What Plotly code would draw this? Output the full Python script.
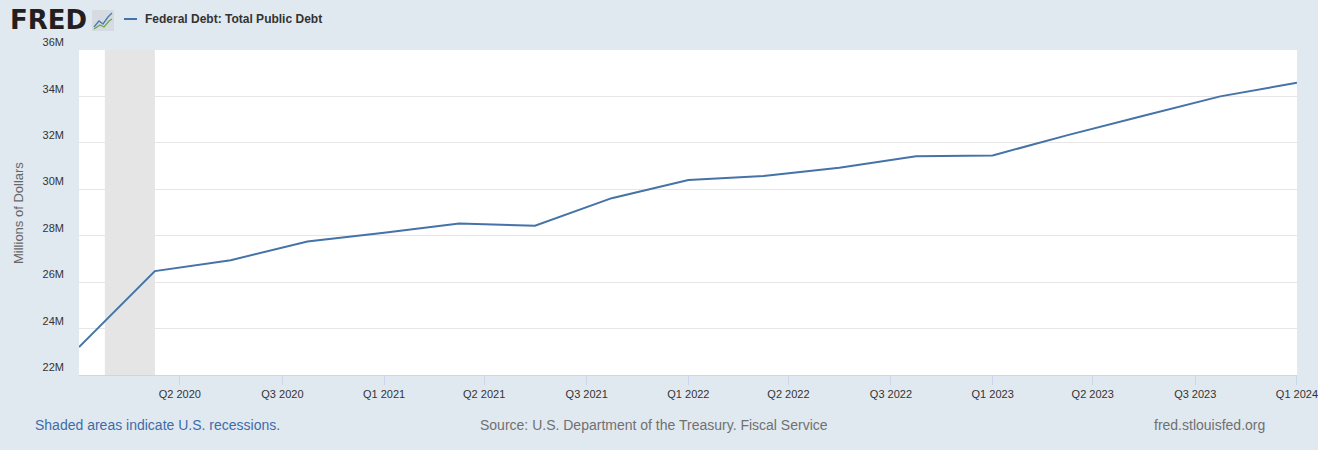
import plotly.graph_objects as go

# ---- data ----
dates = ["2020-01-01", "2020-04-01", "2020-07-01", "2020-10-01",
         "2021-01-01", "2021-04-01", "2021-07-01", "2021-10-01",
         "2022-01-01", "2022-04-01", "2022-07-01", "2022-10-01",
         "2023-01-01", "2023-04-01", "2023-07-01", "2023-10-01",
         "2024-01-01"]
debt_millions = [23201380, 26477151, 26945391, 27747798,
                 28132570, 28529436, 28428919, 29617215,
                 30400960, 30568582, 30928912, 31419689,
                 31458438, 32332274, 33167334, 34001494,
                 34586533]
tick_dates = ["2020-05-01", "2020-09-01", "2021-01-01", "2021-05-01",
              "2021-09-01", "2022-01-01", "2022-05-01", "2022-09-01",
              "2023-01-01", "2023-05-01", "2023-09-01", "2024-01-01"]
tick_labels = ["Q2 2020", "Q3 2020", "Q1 2021", "Q2 2021", "Q3 2021",
               "Q1 2022", "Q2 2022", "Q3 2022", "Q1 2023", "Q2 2023",
               "Q3 2023", "Q1 2024"]
recession_start = "2020-02-01"
recession_end = "2020-04-01"
series_name = "Federal Debt: Total Public Debt"

W, H = 1318, 450
L, R, T, B = 79, 21, 50, 75
PW, PH = W - L - R, H - T - B
BG = "#e1e9f0"
FONT = "Liberation Sans, Arial, sans-serif"


def px(x):
    return (x - L) / PW


def py(y):
    return (H - B - y) / PH


fig = go.Figure()
fig.add_trace(go.Scatter(x=dates, y=debt_millions, mode="lines",
                         name=series_name, showlegend=False,
                         line=dict(color="#4572a7", width=2)))

shapes = [
    dict(type="rect", xref="x", yref="paper", x0=recession_start, x1=recession_end,
         y0=0, y1=1, fillcolor="#e5e5e5", line=dict(width=0), layer="below"),
    # legend line sample
    dict(type="line", xref="paper", yref="paper", x0=px(124), x1=px(137),
         y0=py(19), y1=py(19), line=dict(color="#4572a7", width=2)),
    # logo icon box
    dict(type="rect", xref="paper", yref="paper", x0=px(92), x1=px(114),
         y0=py(31), y1=py(10), fillcolor="#d5dbe0", line=dict(width=0)),
    dict(type="path", xref="paper", yref="paper",
         path=f"M {px(94)},{py(27)} L {px(99)},{py(21)} L {px(103)},{py(24)} L {px(108)},{py(17)} L {px(112)},{py(13)}",
         line=dict(color="#4e79b5", width=1.3)),
    dict(type="path", xref="paper", yref="paper",
         path=f"M {px(94)},{py(29)} L {px(100)},{py(25)} L {px(104)},{py(27)} L {px(109)},{py(21)} L {px(112)},{py(19)}",
         line=dict(color="#6aa84f", width=1.3)),
]

annotations = [
    dict(text="<b>FRED</b>", xref="paper", yref="paper", x=px(8), y=py(20),
         xanchor="left", yanchor="middle", showarrow=False,
         font=dict(family="DejaVu Sans, sans-serif", size=26, color="#231f20")),
    dict(text="<b>" + series_name + "</b>", xref="paper", yref="paper", x=px(143), y=py(19),
         xanchor="left", yanchor="middle", showarrow=False,
         font=dict(family=FONT, size=12, color="#333333")),
    dict(text="Millions of Dollars", xref="paper", yref="paper", x=px(19), y=py(213),
         xanchor="center", yanchor="middle", showarrow=False, textangle=-90,
         font=dict(family=FONT, size=13, color="#666666")),
    dict(text="Shaded areas indicate U.S. recessions.", xref="paper", yref="paper",
         x=px(33), y=py(425), xanchor="left", yanchor="middle", showarrow=False,
         font=dict(family=FONT, size=14, color="#3e6ca8")),
    dict(text="Source: U.S. Department of the Treasury. Fiscal Service", xref="paper",
         yref="paper", x=px(654), y=py(425), xanchor="center", yanchor="middle",
         showarrow=False, font=dict(family=FONT, size=14, color="#707070")),
    dict(text="fred.stlouisfed.org", xref="paper", yref="paper", x=px(1267), y=py(425),
         xanchor="right", yanchor="middle", showarrow=False,
         font=dict(family=FONT, size=14, color="#707070")),
]

fig.update_layout(
    width=W, height=H,
    margin=dict(l=L, r=R, t=T, b=B, pad=0, autoexpand=False),
    paper_bgcolor=BG, plot_bgcolor="#ffffff",
    font=dict(family=FONT, size=11, color="#333333"),
    shapes=shapes, annotations=annotations,
    xaxis=dict(type="date", range=[dates[0], "2024-01-01 02:00"],
               tickvals=tick_dates, ticktext=tick_labels,
               showgrid=False, zeroline=False, automargin=False,
               showline=True, linecolor="#ccd6eb", linewidth=1,
               ticks="outside", ticklen=9, tickcolor="#ccd6eb",
               ticklabeloverflow="allow",
               tickfont=dict(family=FONT, size=11, color="#333333")),
    yaxis=dict(range=[22e6, 36e6], dtick=2e6, tickformat="~s",
               showgrid=True, gridcolor="#e6e6e6", gridwidth=1,
               zeroline=False, showline=False, ticks="", automargin=False,
               ticklabelposition="outside top", ticklabelstandoff=14,
               tickfont=dict(family=FONT, size=11, color="#333333")),
)

fig.write_html("out.html", config={"displayModeBar": False},
               post_script="document.body.style.margin='0';")
